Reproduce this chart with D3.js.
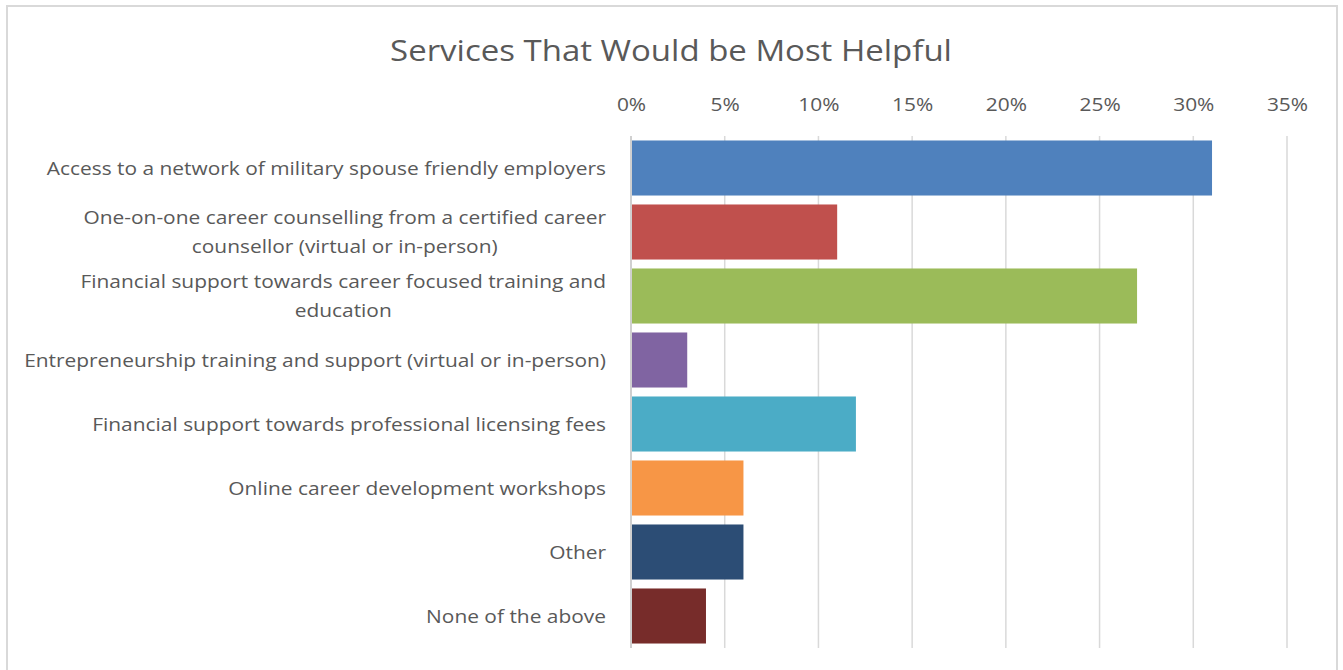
<!DOCTYPE html>
<html>
<head>
<meta charset="utf-8">
<script src="https://cdn.jsdelivr.net/npm/d3@7"></script>
<style>
  html, body { margin: 0; padding: 0; background: #fff; }
  svg { display: block; font-family: "Open Sans", sans-serif; }
</style>
</head>
<body>
<svg id="chart" width="1343" height="670"></svg>
<script>
// Survey responses: share of respondents choosing each service
const categories = [
  "Access to a network of military spouse friendly employers",
  "One-on-one career counselling from a certified career counsellor (virtual or in-person)",
  "Financial support towards career focused training and education",
  "Entrepreneurship training and support (virtual or in-person)",
  "Financial support towards professional licensing fees",
  "Online career development workshops",
  "Other",
  "None of the above"
];
const values = [0.31, 0.11, 0.27, 0.03, 0.12, 0.06, 0.06, 0.04];
const colors = ["#4f81bd", "#c0504d", "#9bbb59", "#8064a2", "#4bacc6", "#f79646", "#2c4d75", "#772c2a"];
const tickValues = [0, 0.05, 0.10, 0.15, 0.20, 0.25, 0.30, 0.35];
const title = "Services That Would be Most Helpful";

const svg = d3.select("#chart");
const SX = 1.1; // horizontal widening of the text face

// widen a text element horizontally around its anchor x
function widen(sel, ax) {
  sel.attr("transform", `translate(${ax},0) scale(${SX},1) translate(${-ax},0)`);
}

// outer chart frame
svg.append("rect")
  .attr("x", 7).attr("y", 6)
  .attr("width", 1330).attr("height", 700)
  .attr("fill", "#fff")
  .attr("stroke", "#d9d9d9").attr("stroke-width", 2);

svg.append("text")
  .attr("x", 671).attr("y", 61)
  .attr("text-anchor", "middle")
  .attr("font-size", 30)
  .attr("fill", "#595959")
  .text(title)
  .call(widen, 671);

const x = d3.scaleLinear().domain([0, 0.35]).range([631, 1287]);
const y = d3.scaleBand().domain(categories).range([136, 648])
  .paddingInner(0.14).paddingOuter(0.07);

// vertical gridlines
svg.append("g").selectAll("line")
  .data(tickValues)
  .join("line")
  .attr("x1", d => x(d)).attr("x2", d => x(d))
  .attr("y1", 136).attr("y2", 648)
  .attr("stroke", "#d9d9d9").attr("stroke-width", 1.5);

// top axis labels
const xAxis = d3.axisTop(x).tickValues(tickValues)
  .tickFormat(d3.format(".0%")).tickSize(0).tickPadding(0);
const gx = svg.append("g").attr("transform", "translate(0,111)").call(xAxis);
gx.select(".domain").remove();
gx.selectAll("text")
  .attr("font-size", 19)
  .attr("font-family", "Open Sans, sans-serif")
  .attr("fill", "#595959")
  .attr("transform", `scale(${SX},1)`);

// bars
svg.append("g").selectAll("rect")
  .data(values)
  .join("rect")
  .attr("x", x(0) + 1)
  .attr("y", (d, i) => y(categories[i]))
  .attr("width", d => x(d) - x(0) - 1)
  .attr("height", y.bandwidth())
  .attr("fill", (d, i) => colors[i]);

// category axis line
svg.append("line")
  .attr("x1", x(0)).attr("x2", x(0))
  .attr("y1", 136).attr("y2", 648)
  .attr("stroke", "#d0d0d0").attr("stroke-width", 2);

// category labels: wrapped to a maximum width, lines centred within the block,
// block right-aligned against the axis
const maxW = 600 / SX, lineH = 29, labelX = 606;
const lg = svg.append("g");
categories.forEach(cat => {
  const words = cat.split(" ");
  const t = lg.append("text")
    .attr("font-size", 19)
    .attr("fill", "#595959");
  const lines = [];
  let cur = [];
  let blockW = 0;
  const probe = t.append("tspan");
  const measure = s => { probe.text(s); return probe.node().getComputedTextLength(); };
  words.forEach(w => {
    const trial = cur.concat([w]).join(" ");
    if (measure(trial) > maxW && cur.length) {
      lines.push(cur.join(" "));
      cur = [w];
    } else {
      cur.push(w);
    }
  });
  lines.push(cur.join(" "));
  lines.forEach(ln => { blockW = Math.max(blockW, measure(ln)); });
  probe.remove();
  const cx = labelX - blockW / 2;
  const cy = y(cat) + y.bandwidth() / 2;
  const y0 = cy - (lines.length - 1) * lineH / 2;
  t.attr("text-anchor", "middle");
  lines.forEach((ln, k) => {
    t.append("tspan")
      .attr("x", cx)
      .attr("y", y0 + k * lineH)
      .attr("dy", "0.35em")
      .text(ln);
  });
  t.call(widen, labelX);
});
</script>
</body>
</html>
